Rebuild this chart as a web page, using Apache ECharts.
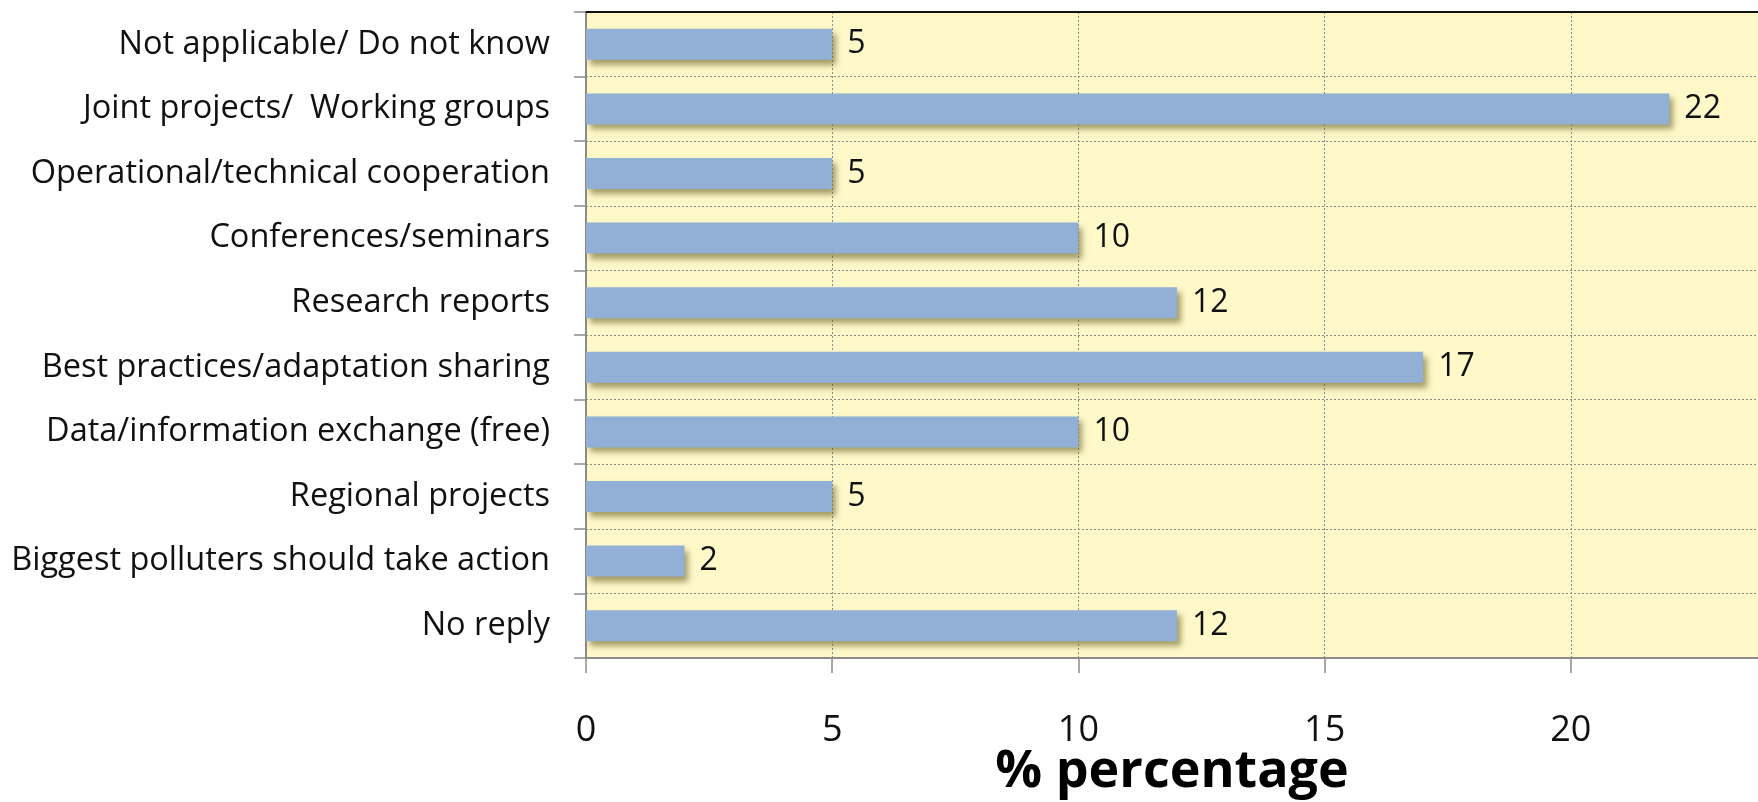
<!DOCTYPE html>
<html>
<head>
<meta charset="utf-8">
<style>html,body{margin:0;padding:0;background:#fff;}#chart{width:1758px;height:802px;}</style>
<script src="https://cdn.jsdelivr.net/npm/echarts@6/dist/echarts.min.js"></script>
</head>
<body>
<div id="chart"></div>
<script>
const categories = [
  "Not applicable/ Do not know",
  "Joint projects/  Working groups",
  "Operational/technical cooperation",
  "Conferences/seminars",
  "Research reports",
  "Best practices/adaptation sharing",
  "Data/information exchange (free)",
  "Regional projects",
  "Biggest polluters should take action",
  "No reply"
];
const values = [5, 22, 5, 10, 12, 17, 10, 5, 2, 12];
const axisTitle = "% percentage";

const FONT = "Open Sans";
const chart = echarts.init(document.getElementById('chart'));
chart.setOption({
  animation: false,
  backgroundColor: '#ffffff',
  grid: {
    left: 586, right: 0, top: 12, bottom: 144,
    outerBoundsMode: 'none', containLabel: false,
    show: true, backgroundColor: '#FFF9CA', borderWidth: 0
  },
  xAxis: [{
    type: 'value', min: 0, max: 23.8, interval: 5,
    name: axisTitle, nameLocation: 'middle', nameGap: 88, nameMoveOverlap: false,
    nameTextStyle: { fontFamily: FONT, fontWeight: 'bold', fontSize: 52, color: '#000' },
    axisLine: { show: true, lineStyle: { color: '#8c8c8c', width: 2 } },
    axisTick: { show: true, length: 15, lineStyle: { color: '#8c8c8c', width: 1.5 } },
    axisLabel: { margin: 55, fontFamily: FONT, fontSize: 36, color: '#111', showMaxLabel: false },
    splitLine: { show: true, lineStyle: { color: '#8a8a8a', type: [2, 2], width: 1 } }
  }, {
    type: 'value', position: 'top', min: 0, max: 23.8, interval: 5,
    axisLine: { show: true, lineStyle: { color: '#111', width: 2 } },
    axisTick: { show: false }, axisLabel: { show: false }, splitLine: { show: false }
  }],
  yAxis: {
    type: 'category', data: categories, inverse: true,
    axisLine: { show: true, lineStyle: { color: '#8c8c8c', width: 2 } },
    axisTick: { show: true, length: 12, lineStyle: { color: '#8c8c8c', width: 1.5 } },
    axisLabel: { margin: 36, fontFamily: FONT, fontSize: 32.5, color: '#111' },
    splitLine: { show: true, lineStyle: { color: '#8a8a8a', type: [2, 2], width: 1 } }
  },
  series: [{
    type: 'bar', data: values, barWidth: 31,
    itemStyle: {
      color: '#92AFD5',
      shadowColor: 'rgba(90,80,20,0.55)', shadowBlur: 6, shadowOffsetX: 4, shadowOffsetY: 5
    },
    label: { show: true, position: 'right', distance: 15, fontFamily: FONT, fontSize: 32, color: '#111' }
  }]
});
</script>
</body>
</html>
